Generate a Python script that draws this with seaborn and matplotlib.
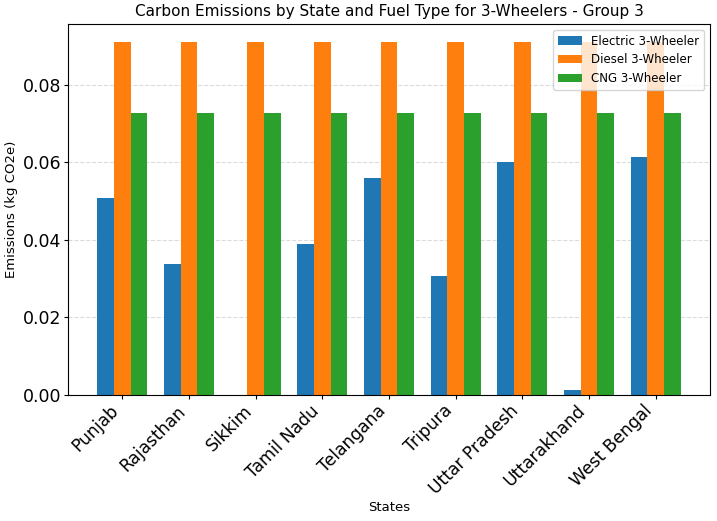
import seaborn as sns
import matplotlib.pyplot as plt
import pandas as pd

states = ["Punjab", "Rajasthan", "Sikkim", "Tamil Nadu", "Telangana",
          "Tripura", "Uttar Pradesh", "Uttarakhand", "West Bengal"]
fuels = ["Electric 3-Wheeler", "Diesel 3-Wheeler", "CNG 3-Wheeler"]
electric = [0.0508, 0.0337, 0.0, 0.0390, 0.0559, 0.0308, 0.0601, 0.0013, 0.0615]
diesel = [0.0911] * 9
cng = [0.0728] * 9
colors = ["#1f77b4", "#ff7f0e", "#2ca02c"]

rows = []
for fuel, vals in zip(fuels, [electric, diesel, cng]):
    for s, v in zip(states, vals):
        rows.append({"State": s, "Fuel": fuel, "Emissions": v})
df = pd.DataFrame(rows)

fig = plt.figure(figsize=(7.17, 5.21), dpi=100)
ax = fig.add_axes([0.0948, 0.242, 0.8954, 0.712])

sns.barplot(data=df, x="State", y="Emissions", hue="Fuel", hue_order=fuels,
            palette=colors, saturation=1, width=0.75, ax=ax, linewidth=0)

ax.set_xlim(-0.8125, 8.8125)
ax.set_ylim(0, 0.0957)
ax.set_yticks([0.0, 0.02, 0.04, 0.06, 0.08])
ax.yaxis.grid(True, linestyle="--", color="#cccccc", alpha=0.7, linewidth=0.8)
ax.set_axisbelow(True)

ax.set_title("Carbon Emissions by State and Fuel Type for 3-Wheelers - Group 3", fontsize=11)
ax.set_xlabel("States", fontsize=9.5)
ax.set_ylabel("Emissions (kg CO2e)", fontsize=9.5)
ax.xaxis.set_label_coords(0.5, -0.286)
ax.yaxis.set_label_coords(-0.078, 0.5)
ax.tick_params(axis="both", length=2.8, pad=2.2)
ax.tick_params(axis="y", labelsize=12.5)
ax.tick_params(axis="x", labelsize=12.3)
plt.setp(ax.get_xticklabels(), rotation=45, ha="right")
ax.legend(loc="upper right", fontsize=8.5)

fig.savefig("out.png", dpi=100)
